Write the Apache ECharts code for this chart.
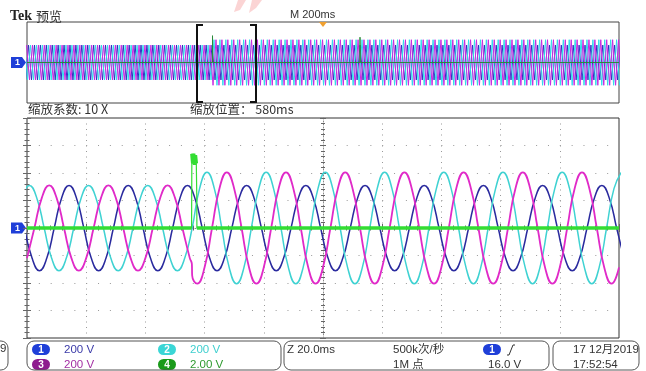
<!DOCTYPE html>
<html>
<head>
<meta charset="utf-8">
<script src="https://cdn.jsdelivr.net/npm/echarts@6/dist/echarts.min.js"></script>
<style>
html,body{margin:0;padding:0;background:#fff;}
#chart{width:646px;height:371px;}
</style>
</head>
<body>
<div id="chart"></div>
<script>
// ---------- Main (zoomed) window: time in ms, volts ----------
const ch1Blue = [
[-0.8,0],[1.7,-219],[4.2,-310],[6.7,-219],[9.2,0],[11.7,219],[14.2,310],[16.7,219],
[19.2,0],[21.7,-219],[24.2,-310],[26.7,-219],[29.2,0],[31.7,219],[34.2,310],[36.7,219],
[39.2,0],[41.7,-219],[44.2,-310],[46.7,-219],[49.2,0],[51.7,219],[54.2,310],[56.7,219],
[59.2,0],[61.7,-219],[64.2,-310],[66.7,-219],[69.2,0],[71.7,219],[74.2,310],[76.7,219],
[79.2,0],[81.7,-219],[84.2,-310],[86.7,-219],[89.2,0],[91.7,219],[94.2,310],[96.7,219],
[99.2,0],[101.7,-219],[104.2,-310],[106.7,-219],[109.2,0],[111.7,219],[114.2,310],[116.7,219],
[119.2,0],[121.7,-219],[124.2,-310],[126.7,-219],[129.2,0],[131.7,219],[134.2,310],[136.7,219],
[139.2,0],[141.7,-219],[144.2,-310],[146.7,-219],[149.2,0],[151.7,219],[154.2,310],[156.7,219],
[159.2,0],[161.7,-219],[164.2,-310],[166.7,-219],[169.2,0],[171.7,219],[174.2,310],[176.7,219],
[179.2,0],[181.7,-219],[184.2,-310],[186.7,-219],[189.2,0],[191.7,219],[194.2,310],[196.7,219],
[199.2,0],[201.7,-219]
];
const ch2Cyan = [
[-1.7,219],[0.8,310],[3.3,219],[5.8,0],[8.3,-219],[10.8,-310],[13.3,-219],[15.8,0],
[18.3,219],[20.8,310],[23.3,219],[25.8,0],[28.3,-219],[30.8,-310],[33.3,-219],[35.8,0],
[38.3,219],[40.8,310],[43.3,219],[45.8,0],[48.3,-219],[50.8,-310],[53.3,-219],[55.8,0],
[58.3,286],[60.8,405],[63.3,286],[65.8,0],[68.3,-286],[70.8,-405],[73.3,-286],[75.8,0],
[78.3,286],[80.8,405],[83.3,286],[85.8,0],[88.3,-286],[90.8,-405],[93.3,-286],[95.8,0],
[98.3,286],[100.8,405],[103.3,286],[105.8,0],[108.3,-286],[110.8,-405],[113.3,-286],[115.8,0],
[118.3,286],[120.8,405],[123.3,286],[125.8,0],[128.3,-286],[130.8,-405],[133.3,-286],[135.8,0],
[138.3,286],[140.8,405],[143.3,286],[145.8,0],[148.3,-286],[150.8,-405],[153.3,-286],[155.8,0],
[158.3,286],[160.8,405],[163.3,286],[165.8,0],[168.3,-286],[170.8,-405],[173.3,-286],[175.8,0],
[178.3,286],[180.8,405],[183.3,286],[185.8,0],[188.3,-286],[190.8,-405],[193.3,-286],[195.8,0],
[198.3,286],[200.8,405]
];
const ch3Magenta = [
[0,-219],[2.5,0],[5,219],[7.5,310],[10,219],[12.5,0],[15,-219],[17.5,-310],
[20,-219],[22.5,0],[25,219],[27.5,310],[30,219],[32.5,0],[35,-219],[37.5,-310],
[40,-219],[42.5,0],[45,219],[47.5,310],[50,219],[52.5,0],[55,-219],[55.7,-262],[55.8,-345],[57.5,-405],
[60,-286],[62.5,0],[65,286],[67.5,405],[70,286],[72.5,0],[75,-286],[77.5,-405],
[80,-286],[82.5,0],[85,286],[87.5,405],[90,286],[92.5,0],[95,-286],[97.5,-405],
[100,-286],[102.5,0],[105,286],[107.5,405],[110,286],[112.5,0],[115,-286],[117.5,-405],
[120,-286],[122.5,0],[125,286],[127.5,405],[130,286],[132.5,0],[135,-286],[137.5,-405],
[140,-286],[142.5,0],[145,286],[147.5,405],[150,286],[152.5,0],[155,-286],[157.5,-405],
[160,-286],[162.5,0],[165,286],[167.5,405],[170,286],[172.5,0],[175,-286],[177.5,-405],
[180,-286],[182.5,0],[185,286],[187.5,405],[190,286],[192.5,0],[195,-286],[197.5,-405],
[200,-286]
];
const ch4Green = [
[0,0],[55.6,0],[55.65,2.7],[55.7,5.4],[56.0,4.7],[56.3,5.4],[56.6,4.6],[56.9,5.3],[57.2,4.7],[57.35,2.4],[57.4,0],[200,0]
];

// ---------- Overview (2 s record): half-cycle extremes every 10 ms ----------
const ovStep = 10;
const ovStart = { ch1: -4.8, ch2: -8.2, ch3: -1.5 };
const ovCh1 = [
-310,310,-310,310,-310,310,-310,310,-310,310,-310,310,-310,310,-310,310,
-310,310,-310,310,-310,310,-310,310,-310,310,-310,310,-310,310,-310,310,
-310,310,-310,310,-310,310,-310,310,-310,310,-310,310,-310,310,-310,310,
-310,310,-310,310,-310,310,-310,310,-310,310,-310,310,-310,310,-310,310,
-310,310,-310,310,-310,310,-310,310,-310,310,-310,310,-310,310,-310,310,
-310,310,-310,310,-310,310,-310,310,-310,310,-310,310,-310,310,-310,310,
-310,310,-310,310,-310,310,-310,310,-310,310,-310,310,-310,310,-310,310,
-310,310,-310,310,-310,310,-310,310,-310,310,-310,310,-310,310,-310,310,
-310,310,-310,310,-310,310,-310,310,-310,310,-310,310,-310,310,-310,310,
-310,310,-310,310,-310,310,-310,310,-310,310,-310,310,-310,310,-310,310,
-310,310,-310,310,-310,310,-310,310,-310,310,-310,310,-310,310,-310,310,
-310,310,-310,310,-310,310,-310,310,-310,310,-310,310,-310,310,-310,310,
-310,310,-310,310,-310,310,-310,310,-310,310
];
const ovCh2 = [
310,-310,310,-310,310,-310,310,-310,310,-310,310,-310,310,-310,310,-310,
310,-310,310,-310,310,-310,310,-310,310,-310,310,-310,310,-310,310,-310,
310,-310,310,-310,310,-310,310,-310,310,-310,310,-310,310,-310,310,-310,
310,-310,310,-310,310,-310,310,-310,310,-310,310,-310,310,-310,310,-310,
405,-405,405,-405,405,-405,405,-405,405,-405,405,-405,405,-405,405,-405,
405,-405,405,-405,405,-405,405,-405,405,-405,405,-405,405,-405,405,-405,
405,-405,405,-405,405,-405,405,-405,405,-405,405,-405,405,-405,405,-405,
405,-405,405,-405,405,-405,405,-405,405,-405,405,-405,405,-405,405,-405,
405,-405,405,-405,405,-405,405,-405,405,-405,405,-405,405,-405,405,-405,
405,-405,405,-405,405,-405,405,-405,405,-405,405,-405,405,-405,405,-405,
405,-405,405,-405,405,-405,405,-405,405,-405,405,-405,405,-405,405,-405,
405,-405,405,-405,405,-405,405,-405,405,-405,405,-405,405,-405,405,-405,
405,-405,405,-405,405,-405,405,-405,405,-405
];
const ovCh3 = [
310,-310,310,-310,310,-310,310,-310,310,-310,310,-310,310,-310,310,-310,
310,-310,310,-310,310,-310,310,-310,310,-310,310,-310,310,-310,310,-310,
310,-310,310,-310,310,-310,310,-310,310,-310,310,-310,310,-310,310,-310,
310,-310,310,-310,310,-310,310,-310,310,-310,310,-310,310,-310,
310,
-405,405,-405,405,-405,405,-405,405,-405,405,-405,405,-405,405,-405,405,
-405,405,-405,405,-405,405,-405,405,-405,405,-405,405,-405,405,-405,405,
-405,405,-405,405,-405,405,-405,405,-405,405,-405,405,-405,405,-405,405,
-405,405,-405,405,-405,405,-405,405,-405,405,-405,405,-405,405,-405,405,
-405,405,-405,405,-405,405,-405,405,-405,405,-405,405,-405,405,-405,405,
-405,405,-405,405,-405,405,-405,405,-405,405,-405,405,-405,405,-405,405,
-405,405,-405,405,-405,405,-405,405,-405,405,-405,405,-405,405,-405,405,
-405,405,-405,405,-405,405,-405,405,-405,405,-405,405,-405,405,-405,405,
-405,405,-405,405,-405,405,-405,405,-405,405,
-405
];
const ovCh4 = [
[0,0],[626.5,0],[626.7,5.3],[627.5,5.3],[627.7,0],[1124.8,0],[1125,5.0],[1126,0],[2000,0]
];

// ---------- Texts ----------
const titleText = ['Tek', '预览'];
const timebaseText = 'M 200ms';
const zoomFactorText = '缩放系数: 10 X';
const zoomPosText = '缩放位置： 580ms';
const chScaleText = ['200 V', '200 V', '200 V', '2.00 V'];
const statusText = ['Z 20.0ms', '500k次/秒', '1M 点', '16.0 V', '17 12月2019', '17:52:54'];

// ---------- Colours ----------
const C = {
  blue: '#2a2a9e', cyan: '#3fd2d2', magenta: '#e02ac8', green: '#33dd33',
  ovBlue: '#2f2fc0', ovCyan: '#30dcea', ovMagenta: '#c82ae0', ovGreen: '#2a8a3a'
};
const SANS = '"Liberation Sans", "Noto Sans CJK SC", Arial, sans-serif';
const CJK = '"Noto Sans CJK SC", "Liberation Sans", sans-serif';

function ovSeries(vals, t0) { return vals.map((v, i) => [t0 + ovStep * i, v]); }
function thickGreen(d) { return d.map(p => (Math.abs(p[1]) < 1 || p[1] > 4) ? p : [p[0], null]); }

function txt(x, y, text, color, font, extra) {
  return Object.assign({ type: 'text', x: x, y: y, z: 50,
    style: { text: text, fill: color, font: font, verticalAlign: 'middle', align: 'left' } }, extra || {});
}
function pill(x, y, color, label) {
  return { type: 'group', x: x, y: y, z: 50, children: [
    { type: 'rect', shape: { x: 0, y: 0, width: 18, height: 11, r: 5.5 }, style: { fill: color } },
    { type: 'text', x: 9, y: 5.8, style: { text: label, fill: '#fff', font: 'bold 10px ' + SANS, align: 'center', verticalAlign: 'middle' } }
  ]};
}
function chMarker(x, y) {
  return { type: 'group', x: x, y: y, z: 50, children: [
    { type: 'polygon', shape: { points: [[0,0],[11,0],[15,5.5],[11,11],[0,11]] }, style: { fill: '#1f3fd8' } },
    { type: 'text', x: 6.5, y: 5.8, style: { text: '1', fill: '#fff', font: 'bold 9px ' + SANS, align: 'center', verticalAlign: 'middle' } }
  ]};
}
function box(x, y, w, h) {
  return { type: 'rect', z: 40, shape: { x: x, y: y, width: w, height: h, r: 7 }, style: { fill: 'none', stroke: '#555', lineWidth: 1 } };
}

const tickStyle = { color: '#666', width: 1 };
function borderAxisX(pos, grid) {
  return { type: 'value', gridIndex: grid, position: pos, min: 0, max: 200, interval: 20,
    axisLine: { show: false }, axisLabel: { show: false },
    axisTick: { show: true, inside: true, length: 4, lineStyle: tickStyle },
    minorTick: { show: true, splitNumber: 5, length: 2.5, lineStyle: tickStyle },
    splitLine: { show: false } };
}
function borderAxisY(pos, grid) {
  return { type: 'value', gridIndex: grid, position: pos, min: -800, max: 800, interval: 200,
    axisLine: { show: false }, axisLabel: { show: false },
    axisTick: { show: true, inside: true, length: 4, lineStyle: tickStyle },
    minorTick: { show: true, splitNumber: 5, length: 2.5, lineStyle: tickStyle },
    splitLine: { show: false } };
}
function centerAxisX(inside) {
  return { type: 'value', gridIndex: 1, position: 'bottom', offset: -110, min: 0, max: 200, interval: 20,
    axisLine: { show: inside, lineStyle: { color: '#888', type: [1, 2] } }, axisLabel: { show: false },
    axisTick: { show: true, inside: inside, length: 3, lineStyle: tickStyle },
    minorTick: { show: true, splitNumber: 5, length: 2, lineStyle: tickStyle },
    splitLine: { show: false } };
}
function centerAxisY(inside) {
  return { type: 'value', gridIndex: 1, position: 'left', offset: -296, min: -800, max: 800, interval: 200,
    axisLine: { show: inside, lineStyle: { color: '#888', type: [1, 2] } }, axisLabel: { show: false },
    axisTick: { show: true, inside: inside, length: 3, lineStyle: tickStyle },
    minorTick: { show: true, splitNumber: 5, length: 2, lineStyle: tickStyle },
    splitLine: { show: false } };
}

const mainX = borderAxisX('bottom', 1);
mainX.splitLine = { show: true, lineStyle: { color: '#999', width: 1, type: [1, 4.5] } };
const mainY = borderAxisY('left', 1);
mainY.splitLine = { show: true, lineStyle: { color: '#999', width: 1, type: [1, 10.84] } };

const lineBase = { type: 'line', symbol: 'none', showSymbol: false, animation: false, silent: true, clip: true };

const option = {
  animation: false,
  backgroundColor: '#fff',
  grid: [
    { left: 27, top: 22, width: 592, height: 81, show: true, borderColor: '#444', borderWidth: 1, backgroundColor: 'transparent' },
    { left: 27, top: 118, width: 592, height: 220, show: true, borderColor: '#333', borderWidth: 1, backgroundColor: 'transparent' }
  ],
  xAxis: [
    { type: 'value', gridIndex: 0, min: 0, max: 2000, show: false },
    mainX,
    borderAxisX('top', 1),
    centerAxisX(true),
    centerAxisX(false)
  ],
  yAxis: [
    { type: 'value', gridIndex: 0, min: -720, max: 720, show: false },
    mainY,
    borderAxisY('right', 1),
    { type: 'value', gridIndex: 1, min: -8, max: 8, show: false },
    centerAxisY(true),
    centerAxisY(false),
    { type: 'value', gridIndex: 0, min: -8, max: 8, show: false }
  ],
  series: [
    Object.assign({}, lineBase, { name: 'ov1', xAxisIndex: 0, yAxisIndex: 0, data: ovSeries(ovCh1, ovStart.ch1), lineStyle: { color: C.ovBlue, width: 1 } }),
    Object.assign({}, lineBase, { name: 'ov2', xAxisIndex: 0, yAxisIndex: 0, data: ovSeries(ovCh2, ovStart.ch2), lineStyle: { color: C.ovCyan, width: 1 } }),
    Object.assign({}, lineBase, { name: 'ov3', xAxisIndex: 0, yAxisIndex: 0, data: ovSeries(ovCh3, ovStart.ch3), lineStyle: { color: C.ovMagenta, width: 1 } }),
    Object.assign({}, lineBase, { name: 'ov4', xAxisIndex: 0, yAxisIndex: 6, data: ovCh4, lineStyle: { color: C.ovGreen, width: 1 } }),
    Object.assign({}, lineBase, { name: 'ch1', xAxisIndex: 1, yAxisIndex: 1, smooth: 0.5, data: ch1Blue, lineStyle: { color: C.blue, width: 1.5 } }),
    Object.assign({}, lineBase, { name: 'ch2', xAxisIndex: 1, yAxisIndex: 1, smooth: 0.5, data: ch2Cyan, lineStyle: { color: C.cyan, width: 1.5 } }),
    Object.assign({}, lineBase, { name: 'ch3', xAxisIndex: 1, yAxisIndex: 1, smooth: 0.5, data: ch3Magenta, lineStyle: { color: C.magenta, width: 1.8 } }),
    Object.assign({}, lineBase, { name: 'ch4', xAxisIndex: 1, yAxisIndex: 3, data: ch4Green, lineStyle: { color: C.green, width: 1.2 } }),
    Object.assign({}, lineBase, { name: 'ch4b', xAxisIndex: 1, yAxisIndex: 3, data: thickGreen(ch4Green), connectNulls: false, lineStyle: { color: C.green, width: 3.5 } })
  ],
  graphic: { elements: [
    // faint watermark strokes
    { type: 'polygon', z: 1, shape: { points: [[238,0],[246,0],[240,10],[234,12]] }, style: { fill: 'rgba(235,60,60,0.22)' } },
    { type: 'polygon', z: 1, shape: { points: [[252,0],[262,0],[256,8],[249,13]] }, style: { fill: 'rgba(235,60,60,0.22)' } },
    txt(10, 16, titleText[0], '#222', 'bold 14px "Liberation Serif", serif'),
    txt(36, 16, titleText[1], '#333', '13px ' + CJK),
    txt(290, 15, timebaseText, '#333', '11px ' + SANS),
    { type: 'polygon', z: 60, shape: { points: [[319,22],[327,22],[323,27]] }, style: { fill: '#f0a030' } },
    { type: 'polyline', z: 60, shape: { points: [[203,25],[197,25],[197,102],[203,102]] }, style: { stroke: '#111', lineWidth: 2, fill: 'none' } },
    { type: 'polyline', z: 60, shape: { points: [[250,25],[256,25],[256,102],[250,102]] }, style: { stroke: '#111', lineWidth: 2, fill: 'none' } },
    chMarker(11, 57),
    chMarker(11, 222.5),
    txt(28, 109, zoomFactorText, '#333', '12.5px ' + CJK),
    txt(190, 109, zoomPosText, '#333', '12.5px ' + CJK),
    box(-60, 341, 68, 29),
    txt(0, 349, '9', '#333', '11.5px ' + SANS),
    box(27, 341, 254, 29),
    box(284, 341, 265, 29),
    box(553, 341, 86, 29),
    pill(32, 344, '#1f3fd8', '1'),
    pill(32, 359, '#8e1c8e', '3'),
    pill(158, 344, '#3ad6d6', '2'),
    pill(158, 359, '#1a9a1a', '4'),
    txt(64, 350, chScaleText[0], '#3a3aa8', '11.5px ' + SANS),
    txt(64, 365, chScaleText[2], '#a32ea3', '11.5px ' + SANS),
    txt(190, 350, chScaleText[1], '#3fcfcf', '11.5px ' + SANS),
    txt(190, 365, chScaleText[3], '#2e9a2e', '11.5px ' + SANS),
    txt(287, 350, statusText[0], '#333', '11.5px ' + SANS),
    txt(393, 350, statusText[1], '#333', '11.5px ' + SANS),
    txt(393, 365, statusText[2], '#333', '11.5px ' + SANS),
    pill(483, 344, '#1f3fd8', '1'),
    { type: 'polyline', z: 60, shape: { points: [[507,355],[509,355],[513,345],[515,345]] }, style: { stroke: '#333', lineWidth: 1, fill: 'none' } },
    txt(488, 365, statusText[3], '#333', '11.5px ' + SANS),
    txt(573, 350, statusText[4], '#333', '11.5px ' + SANS),
    txt(573, 365, statusText[5], '#333', '11.5px ' + SANS)
  ]}
};

const chart = echarts.init(document.getElementById('chart'), null, { renderer: 'canvas', width: 646, height: 371 });
chart.setOption(option);
</script>
</body>
</html>
